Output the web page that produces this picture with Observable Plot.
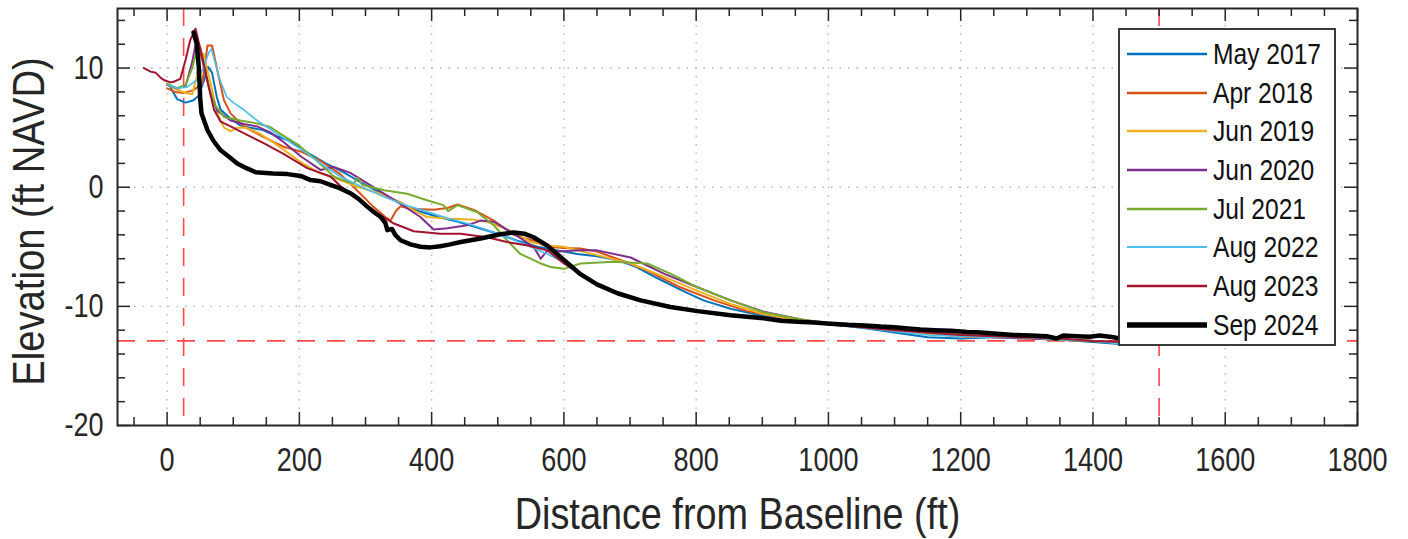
<!DOCTYPE html>
<html><head><meta charset="utf-8">
<script src="https://cdn.jsdelivr.net/npm/d3@7"></script>
<script src="https://cdn.jsdelivr.net/npm/@observablehq/plot@0.6"></script>
<style>
body{margin:0;background:#fff;}
#wrap{position:relative;width:1408px;height:539px;overflow:hidden;}
#legend{position:absolute;left:1118px;top:28px;width:214px;height:314px;border:2px solid #3a3a3a;background:#fff;
 font-family:"Liberation Sans",Arial,sans-serif;font-size:30px;color:#111;}
.row{position:absolute;left:0;height:38.7px;display:flex;align-items:center;white-space:nowrap;}
.row svg{margin-left:7px;margin-right:6px;flex:none;}
.row span{display:inline-block;transform:scaleX(0.82);transform-origin:0 50%;}
</style></head>
<body><div id="wrap"></div>
<script>
const FONT = '"Liberation Sans",Arial,sans-serif';
const NARROW = 0.82, TITLE_NARROW = 0.85;

// ---- data (distance ft, elevation ft NAVD) ----
const may2017 = [[5,8.4],[15,7.4],[28,7.1],[40,7.3],[48,7.7],[56,9.0],[62,10.1],[68,9.6],[75,7.6],[81,6.5],[95,5.8],[110,5.2],[125,5.0],[145,4.8],[165,4.3],[185,3.9],[212,2.9],[240,2.0],[265,1.3],[290,0.5],[320,-0.4],[350,-1.3],[380,-2.0],[410,-2.5],[440,-2.9],[470,-3.4],[500,-3.9],[530,-4.5],[560,-5.0],[590,-5.3],[620,-5.6],[650,-5.8],[680,-6.1],[710,-6.7],[740,-7.6],[776,-8.6],[811,-9.5],[852,-10.2],[900,-10.8],[950,-11.2],[1000,-11.5],[1050,-11.8],[1100,-12.2],[1150,-12.6],[1200,-12.7],[1250,-12.6],[1300,-12.6],[1350,-12.8],[1400,-13.0],[1450,-13.2]];
const apr2018 = [[0,8.3],[12,8.0],[25,7.9],[40,8.15],[53,8.7],[58,10.5],[61,11.9],[68,11.9],[76,9.8],[86,7.3],[96,6.2],[116,5.1],[146,4.2],[176,3.4],[202,3.0],[232,2.2],[262,1.1],[287,-0.25],[312,-1.65],[330,-2.5],[338,-2.8],[346,-2.0],[353,-1.6],[368,-1.8],[403,-1.9],[424,-1.75],[439,-1.45],[464,-1.9],[494,-2.8],[524,-4.0],[554,-4.5],[575,-5.0],[600,-5.1],[625,-5.15],[650,-5.4],[675,-5.9],[700,-6.4],[726,-7.0],[776,-8.4],[827,-9.5],[877,-10.4],[953,-11.15],[1000,-11.45],[1050,-11.7],[1100,-12.0],[1150,-12.3],[1200,-12.5],[1250,-12.6],[1300,-12.6],[1350,-12.8],[1400,-12.9],[1450,-13.1]];
const jun2019 = [[0,8.6],[15,8.2],[28,7.9],[38,7.8],[45,9.3],[50,11.2],[55,11.2],[60,10.0],[66,8.7],[76,6.2],[86,5.0],[96,4.7],[106,5.0],[120,5.0],[140,4.5],[165,3.6],[190,2.6],[202,2.1],[230,1.2],[262,0.6],[290,0.0],[323,-0.55],[353,-1.25],[375,-2.0],[393,-2.5],[428,-2.65],[460,-2.7],[484,-2.9],[524,-3.75],[550,-4.6],[575,-4.9],[600,-5.0],[650,-5.7],[701,-6.4],[751,-7.5],[802,-8.7],[852,-9.8],[900,-10.6],[950,-11.15],[1000,-11.45],[1050,-11.7],[1100,-12.0],[1150,-12.3],[1200,-12.5],[1250,-12.6],[1300,-12.7],[1350,-12.8],[1400,-12.9],[1450,-13.1]];
const jun2020 = [[0,8.6],[15,8.3],[28,8.5],[38,10.5],[45,12.6],[50,11.5],[58,9.5],[66,7.8],[76,6.4],[96,5.6],[116,5.3],[136,5.1],[156,4.6],[176,3.8],[202,2.6],[232,1.45],[252,1.7],[277,1.2],[312,0.0],[353,-1.4],[383,-2.5],[403,-3.55],[424,-3.45],[454,-3.2],[474,-2.8],[494,-2.9],[524,-3.9],[554,-5.0],[565,-6.0],[575,-5.3],[590,-5.4],[625,-5.3],[650,-5.3],[701,-5.9],[751,-7.25],[802,-8.4],[852,-9.5],[902,-10.45],[963,-11.15],[1000,-11.4],[1050,-11.65],[1100,-11.9],[1150,-12.2],[1200,-12.4],[1250,-12.6],[1300,-12.7],[1350,-12.8],[1400,-12.9],[1450,-13.1]];
const jul2021 = [[0,8.7],[15,8.3],[28,8.6],[38,10.0],[45,11.5],[50,11.8],[56,10.2],[64,8.3],[71,7.0],[86,5.9],[111,5.6],[136,5.35],[156,5.05],[171,4.5],[197,3.6],[227,2.2],[252,0.9],[270,0.5],[282,0.3],[288,0.8],[295,0.2],[328,-0.25],[363,-0.55],[393,-1.1],[418,-1.5],[425,-2.0],[439,-1.5],[469,-2.1],[494,-3.2],[514,-4.45],[534,-5.6],[565,-6.4],[580,-6.7],[600,-6.85],[625,-6.4],[675,-6.25],[726,-6.4],[761,-7.25],[802,-8.4],[852,-9.5],[902,-10.5],[963,-11.15],[1000,-11.4],[1050,-11.65],[1100,-11.9],[1150,-12.2],[1200,-12.4],[1250,-12.5],[1300,-12.6],[1350,-12.8],[1400,-12.9],[1450,-13.1]];
const aug2022 = [[0,8.6],[15,8.3],[30,8.4],[45,9.0],[55,10.0],[63,11.3],[67,11.6],[72,10.6],[80,9.0],[90,7.6],[100,7.1],[116,6.5],[136,5.6],[166,4.5],[202,3.2],[232,2.0],[262,0.9],[295,0.0],[328,-0.8],[360,-1.5],[393,-2.05],[424,-2.6],[454,-3.05],[484,-3.6],[514,-4.2],[545,-4.9],[575,-5.6],[600,-6.3],[625,-7.3],[650,-8.1],[681,-8.8],[716,-9.4],[761,-9.95],[802,-10.3],[852,-10.7],[902,-11.0],[953,-11.3],[1000,-11.5],[1050,-11.8],[1100,-12.1],[1150,-12.4],[1200,-12.5],[1250,-12.6],[1300,-12.6],[1350,-12.8],[1400,-12.9],[1450,-13.2]];
const aug2023 = [[-35,10.0],[-25,9.7],[-17,9.6],[-10,9.2],[-5,9.0],[5,8.8],[10,8.85],[20,9.1],[28,10.7],[35,12.35],[43,13.3],[53,10.95],[63,8.4],[71,6.5],[81,5.5],[96,5.1],[121,4.4],[146,3.7],[176,2.8],[212,1.6],[247,0.9],[262,0.1],[292,-1.1],[318,-2.2],[343,-3.05],[373,-3.7],[413,-3.9],[444,-3.9],[484,-4.2],[514,-4.6],[545,-4.9],[575,-5.3],[600,-6.4],[625,-7.3],[650,-8.1],[681,-8.9],[716,-9.5],[761,-10.1],[802,-10.45],[852,-10.8],[902,-11.05],[953,-11.3],[1000,-11.5],[1050,-11.75],[1100,-12.0],[1150,-12.2],[1200,-12.4],[1250,-12.5],[1300,-12.6],[1350,-12.7],[1400,-12.9],[1450,-13.0]];
const sep2024 = [[40,13.0],[45,12.0],[48,10.0],[50,7.5],[52,6.2],[61,4.8],[70,3.9],[81,3.1],[95,2.5],[106,2.0],[120,1.6],[134,1.25],[160,1.15],[182,1.1],[202,0.95],[217,0.6],[232,0.5],[247,0.2],[262,-0.1],[277,-0.5],[290,-1.0],[303,-1.65],[313,-2.1],[323,-2.5],[330,-3.0],[333,-3.6],[340,-3.5],[345,-4.0],[353,-4.45],[368,-4.8],[383,-5.0],[398,-5.05],[413,-4.95],[428,-4.8],[444,-4.6],[474,-4.3],[504,-3.95],[524,-3.8],[540,-3.9],[554,-4.2],[575,-4.9],[600,-6.1],[625,-7.3],[650,-8.15],[681,-8.9],[716,-9.5],[761,-10.05],[802,-10.4],[852,-10.75],[902,-11.0],[928,-11.2],[953,-11.3],[978,-11.35],[1003,-11.45],[1030,-11.55],[1055,-11.6],[1079,-11.7],[1100,-11.75],[1120,-11.85],[1139,-11.95],[1160,-12.0],[1185,-12.05],[1210,-12.15],[1230,-12.2],[1255,-12.3],[1280,-12.4],[1306,-12.45],[1330,-12.5],[1345,-12.7],[1355,-12.45],[1375,-12.5],[1395,-12.55],[1410,-12.45],[1431,-12.6],[1445,-12.75]];

const seriesNames = ["May 2017","Apr 2018","Jun 2019","Jun 2020","Jul 2021","Aug 2022","Aug 2023","Sep 2024"];
const seriesData = [may2017, apr2018, jun2019, jun2020, jul2021, aug2022, aug2023, sep2024];
const seriesColors = ["#0072BD","#D95319","#EDB120","#7E2F8E","#77AC30","#4DBEEE","#A2142F","#000000"];
const seriesWidths = [2,2,2,2,2,1.6,2,4.5];

const xMajorTicks = [0,200,400,600,800,1000,1200,1400,1600,1800];
const xMinorTicks = [-50,50,100,150,250,300,350,450,500,550,650,700,750,850,900,950,1050,1100,1150,1250,1300,1350,1450,1500,1550,1650,1700,1750];
const yMajorTicks = [-20,-10,0,10];
const yMinorTicks = [-18,-16,-14,-12,-8,-6,-4,-2,2,4,6,8,12,14];
const xGrid = [0,200,400,600,800,1000,1200,1400,1600];
const yGrid = [-10,0,10];
const refX = [25,1500];
const refY = [-12.9];
const xTitle = "Distance from Baseline (ft)";
const yTitle = "Elevation (ft NAVD)";

const W = 1408, H = 539, ML = 117, MR = 51, MT = 8, MB = 114;
const FW = W - ML - MR, FH = H - MT - MB;
const MAJ = 13, MIN = 8, INK = "#262626";

const lineMarks = seriesData.map((d, i) =>
  Plot.line(d, {x: p => p[0], y: p => p[1], stroke: seriesColors[i], strokeWidth: seriesWidths[i], strokeLinejoin: "round"}));

const tickStyle = {stroke: INK, strokeWidth: 1.5};
const fmt = d => String(d);
const plot = Plot.plot({
  width: W, height: H,
  marginLeft: ML, marginRight: MR, marginTop: MT, marginBottom: MB,
  x: {domain: [-75, 1800]},
  y: {domain: [-20, 15]},
  style: {fontFamily: FONT, background: "white", color: INK},
  marks: [
    Plot.ruleX(xGrid, {stroke: "#b8b8b8", strokeWidth: 1.4, strokeDasharray: "1.5,7"}),
    Plot.ruleY(yGrid, {stroke: "#b8b8b8", strokeWidth: 1.4, strokeDasharray: "1.5,7"}),
    Plot.ruleX(refX, {stroke: "#ff4848", strokeWidth: 1.6, strokeDasharray: "18,12"}),
    Plot.ruleY(refY, {stroke: "#ff4848", strokeWidth: 1.6, strokeDasharray: "18,12"}),
    ...lineMarks,
    Plot.ruleX(xMajorTicks, {...tickStyle, insetTop: FH - MAJ}),
    Plot.ruleX(xMajorTicks, {...tickStyle, insetBottom: FH - MAJ}),
    Plot.ruleX(xMinorTicks, {...tickStyle, insetTop: FH - MIN}),
    Plot.ruleX(xMinorTicks, {...tickStyle, insetBottom: FH - MIN}),
    Plot.ruleY(yMajorTicks, {...tickStyle, insetRight: FW - MAJ}),
    Plot.ruleY(yMajorTicks, {...tickStyle, insetLeft: FW - MAJ}),
    Plot.ruleY(yMinorTicks, {...tickStyle, insetRight: FW - MIN}),
    Plot.ruleY(yMinorTicks, {...tickStyle, insetLeft: FW - MIN}),
    Plot.axisX(xMajorTicks, {tickSize: 0, tickPadding: 22, fontSize: 33, label: null, tickFormat: fmt}),
    Plot.axisY(yMajorTicks, {tickSize: 0, tickPadding: 14, fontSize: 33, label: null, tickFormat: fmt}),
    Plot.frame({stroke: INK, strokeWidth: 2}),
    Plot.text([xTitle], {frameAnchor: "bottom", textAnchor: "middle", lineAnchor: "top", dy: 72, fontSize: 44.5, fill: INK}),
    Plot.text([yTitle], {frameAnchor: "left", textAnchor: "middle", rotate: -90, lineAnchor: "top", dx: -105, dy: 4.5, fontSize: 45, fill: INK})
  ]
});
// narrow the (Helvetica-Narrow-like) lettering of the reference
plot.querySelectorAll("text").forEach(t => {
  const tr = t.getAttribute("transform") || "";
  const x = +(t.getAttribute("x") || 0);
  const k = (t.textContent === xTitle || t.textContent === yTitle) ? TITLE_NARROW : NARROW;
  t.setAttribute("transform", `${tr} translate(${x},0) scale(${k},1) translate(${-x},0)`);
});
const wrap = document.getElementById("wrap");
wrap.appendChild(plot);

const legend = document.createElement("div");
legend.id = "legend";
seriesNames.forEach((name, i) => {
  const row = document.createElement("div");
  row.className = "row";
  row.style.top = (4.6 + i * 38.7) + "px";
  row.innerHTML = `<svg width="80" height="8"><line x1="0" x2="80" y1="4" y2="4" stroke="${seriesColors[i]}" stroke-width="${seriesWidths[i] + (i === 7 ? 1 : 0.5)}"/></svg><span>${name}</span>`;
  legend.appendChild(row);
});
wrap.appendChild(legend);
</script>
</body></html>
